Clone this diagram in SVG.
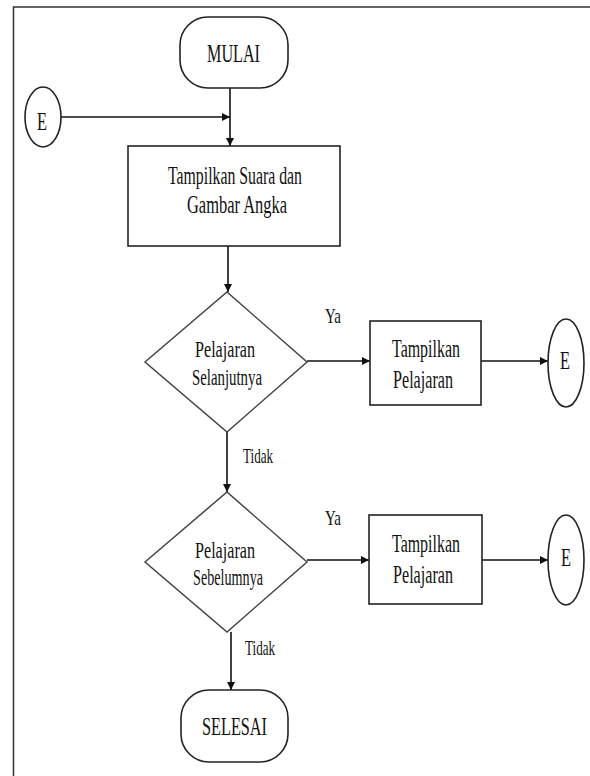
<svg xmlns="http://www.w3.org/2000/svg" width="590" height="776" viewBox="0 0 590 776">
<style>
.shape{fill:#fff;stroke:#222;stroke-width:1.6}
.dia{fill:#fff;stroke:#444;stroke-width:1.5}
.conn{fill:none;stroke:#111;stroke-width:1.6}
text{font-family:"Liberation Serif","Times New Roman",serif;fill:#111;text-anchor:middle}
.t{font-size:26px}
.d{font-size:24px}
.s{font-size:21px}
</style>
<defs>
<marker id="arr" viewBox="0 0 10 10" refX="10" refY="5" markerWidth="9" markerHeight="8" markerUnits="userSpaceOnUse" orient="auto">
<path d="M0,0 L10,5 L0,10 z" fill="#111"/>
</marker>
</defs>
<rect width="590" height="776" fill="#fff"/>
<path d="M13.5,776 V7 H590" fill="none" stroke="#333" stroke-width="1.5"/>
<g id="connectors">
<path class="conn" d="M230,88 V146" marker-end="url(#arr)"/>
<path class="conn" d="M61,117 H230" marker-end="url(#arr)"/>
<path class="conn" d="M228,246 V292" marker-end="url(#arr)"/>
<path class="conn" d="M307,361 H370" marker-end="url(#arr)"/>
<path class="conn" d="M481,361 H548" marker-end="url(#arr)"/>
<path class="conn" d="M227,432 V492" marker-end="url(#arr)"/>
<path class="conn" d="M307,560 H369" marker-end="url(#arr)"/>
<path class="conn" d="M482,560 H548" marker-end="url(#arr)"/>
<path class="conn" d="M231,632 V690" marker-end="url(#arr)"/>
<text class="s" x="333" y="323" textLength="16" lengthAdjust="spacingAndGlyphs">Ya</text>
<text class="s" x="258" y="463" textLength="30" lengthAdjust="spacingAndGlyphs">Tidak</text>
<text class="s" x="333" y="525" textLength="16" lengthAdjust="spacingAndGlyphs">Ya</text>
<text class="s" x="260" y="655" textLength="30" lengthAdjust="spacingAndGlyphs">Tidak</text>
</g>
<g id="mulai">
<rect class="shape" x="180" y="17" width="108" height="71" rx="28"/>
<text class="t" x="233.5" y="62" textLength="53" lengthAdjust="spacingAndGlyphs">MULAI</text>
</g>
<g id="e-left">
<ellipse class="shape" cx="43" cy="117" rx="18" ry="30"/>
<text class="t" x="42" y="130" textLength="10" lengthAdjust="spacingAndGlyphs">E</text>
</g>
<g id="tampil-suara">
<rect class="shape" x="128" y="146" width="212" height="100"/>
<text class="t" x="235" y="184" textLength="134" lengthAdjust="spacingAndGlyphs">Tampilkan Suara dan</text>
<text class="t" x="237" y="213" textLength="100" lengthAdjust="spacingAndGlyphs">Gambar Angka</text>
</g>
<g id="dec-selanjutnya">
<polygon class="dia" points="145,362 227,292 307,362 227,432"/>
<text class="d" x="225" y="357" textLength="60" lengthAdjust="spacingAndGlyphs">Pelajaran</text>
<text class="d" x="227" y="385" textLength="70" lengthAdjust="spacingAndGlyphs">Selanjutnya</text>
</g>
<g id="tampil-1">
<rect class="shape" x="370" y="321" width="111" height="84"/>
<text class="t" x="426" y="357" textLength="68" lengthAdjust="spacingAndGlyphs">Tampilkan</text>
<text class="t" x="423" y="388" textLength="60" lengthAdjust="spacingAndGlyphs">Pelajaran</text>
</g>
<g id="e-right-1">
<ellipse class="shape" cx="566" cy="363" rx="18" ry="44"/>
<text class="t" x="565" y="369" textLength="10" lengthAdjust="spacingAndGlyphs">E</text>
</g>
<g id="dec-sebelumnya">
<polygon class="dia" points="145,562 227,492 307,562 227,632"/>
<text class="d" x="225" y="558" textLength="60" lengthAdjust="spacingAndGlyphs">Pelajaran</text>
<text class="d" x="228" y="585" textLength="70" lengthAdjust="spacingAndGlyphs">Sebelumnya</text>
</g>
<g id="tampil-2">
<rect class="shape" x="369" y="515" width="113" height="89"/>
<text class="t" x="426" y="552" textLength="68" lengthAdjust="spacingAndGlyphs">Tampilkan</text>
<text class="t" x="423" y="583" textLength="60" lengthAdjust="spacingAndGlyphs">Pelajaran</text>
</g>
<g id="e-right-2">
<ellipse class="shape" cx="566" cy="560" rx="18" ry="45"/>
<text class="t" x="566" y="566" textLength="10" lengthAdjust="spacingAndGlyphs">E</text>
</g>
<g id="selesai">
<rect class="shape" x="181" y="690" width="107" height="72" rx="28"/>
<text class="t" x="234.5" y="735" textLength="65" lengthAdjust="spacingAndGlyphs">SELESAI</text>
</g>
</svg>
